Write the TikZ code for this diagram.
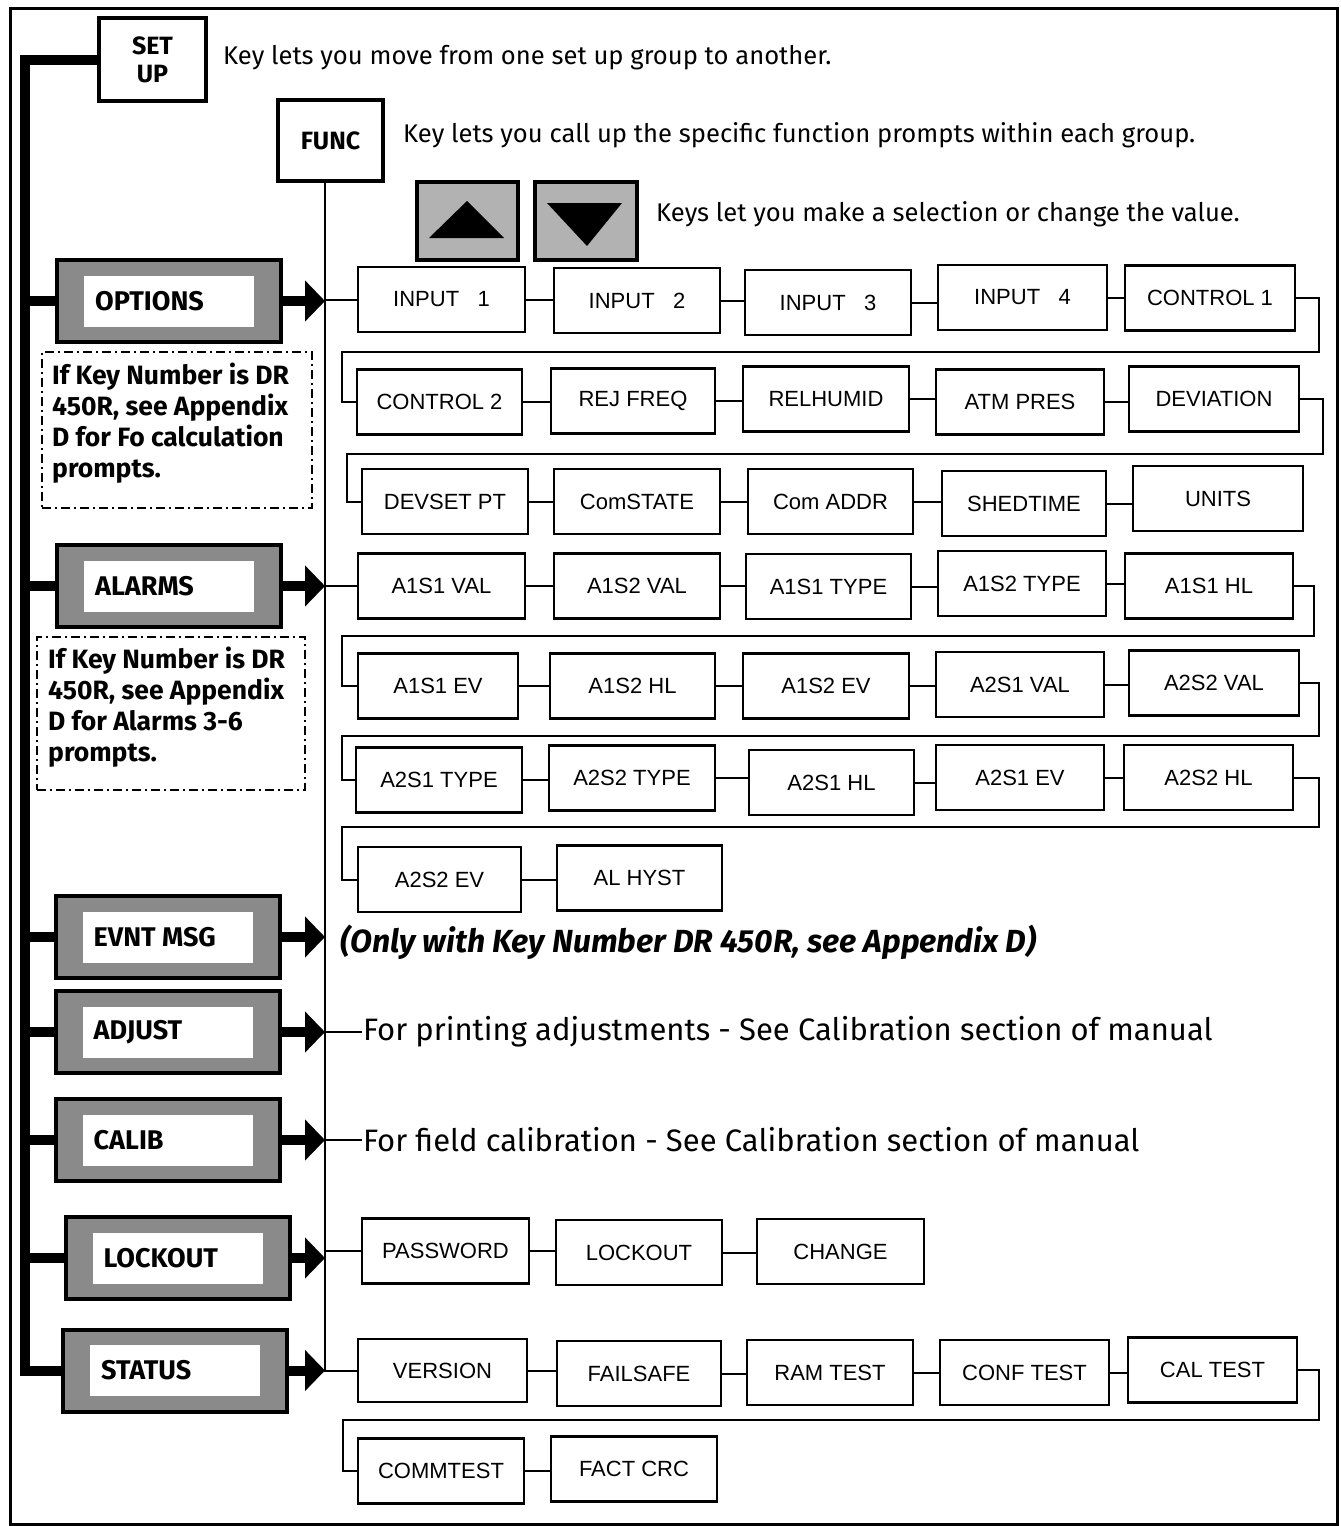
\documentclass[tikz,border=0pt]{standalone}
\usepackage{fontspec}
\setmainfont{Fira Sans}
\newfontfamily\promptfont{Liberation Sans}
\usetikzlibrary{arrows.meta}

\definecolor{halftone}{gray}{0.54}
\definecolor{keytone}{gray}{0.70}

\tikzset{
  frame/.style={line width=3pt},
  prompt/.style={draw, line width=2.4pt, inner sep=0pt, minimum height=65pt,
    font=\promptfont\fontsize{22}{26}\selectfont},
  link/.style={line width=2pt},
  keybox/.style={draw, line width=3.5pt, inner sep=0pt, align=center,
    font=\bfseries\fontsize{25}{28}\selectfont},
  group/.style={draw, line width=4pt, fill=halftone, minimum width=224pt,
    minimum height=82pt, inner sep=0pt},
  groupin/.style={fill=white, minimum width=170pt, minimum height=51pt, inner sep=0pt},
  grouplabel/.style={anchor=west, inner sep=0pt, font=\bfseries\fontsize{27}{30}\selectfont},
  bus/.style={line width=10pt},
  feed/.style={line width=10pt, -{Triangle[length=20pt,width=40pt]}},
  note/.style={draw, line width=2pt, dash pattern=on 9pt off 4pt on 2pt off 4pt},
  notetext/.style={anchor=west, align=left, inner sep=0pt,
    font=\bfseries\fontsize{26.5}{31}\selectfont},
  desc/.style={anchor=west, inner sep=0pt, font=\fontsize{25.6}{29}\selectfont},
  remark/.style={anchor=west, inner sep=0pt, font=\fontsize{31}{34}\selectfont},
  arrowkey/.style={draw, line width=3.5pt, fill=keytone, minimum width=101pt,
    minimum height=78pt, inner sep=0pt},
}

% a group key: grey bordered frame with a white field and its label
\newcommand\groupkey[4]{%
  \node[group] (#1) at (#2,#3) {};
  \node[groupin] (#1-in) at (#1.center) {};
  \node[grouplabel] (#1-label) at ([xshift=40pt]#1.west) {#4};
}

\begin{document}
\begin{tikzpicture}[x=1pt, y=-1pt]
\useasboundingbox (0,0) rectangle (1341,1526);

% outer frame
\draw[frame] (10,8) rectangle (1337,1524);

% SET UP and FUNC keys
\node[keybox, minimum width=107pt, minimum height=83pt] (setup) at (152.5,59.5) {SET\\UP};
\node[keybox, minimum width=105pt, minimum height=81pt] (func) at (330.5,140.5) {FUNC};
\node[desc] (setuptext) at (223,58) {Key lets you move from one set up group to another.};
\node[desc] (functext) at (403,135) {Key lets you call up the specific function prompts within each group.};

% up / down keys
\node[arrowkey] (upkey) at (467.5,221) {};
\node[arrowkey, minimum width=102pt] (downkey) at (586,221) {};
\fill (429,238) -- (504,238) -- (467,201) -- cycle;
\fill (547,203) -- (622,203) -- (587,246) -- cycle;
\node[desc] (keystext) at (656,214) {Keys let you make a selection or change the value.};

% group keys
\groupkey{opt}{169}{301}{OPTIONS}
\groupkey{alm}{169}{586}{ALARMS}
\groupkey{evt}{167.5}{937}{EVNT MSG}
\groupkey{adj}{167.5}{1032}{ADJUST}
\groupkey{cal}{167.5}{1140}{CALIB}
\groupkey{lck}{177.5}{1258}{LOCKOUT}
\groupkey{sta}{175}{1370.5}{STATUS}

% SET UP bus on the left
\draw[bus, line join=miter] (setup.west) -- (25,59.5) -- (25,1370.5) -- (sta.west);
\foreach \g in {opt,alm,evt,adj,cal,lck}
  \draw[bus] (25,0 |- \g.west) -- (\g.west);

% FUNC line
\coordinate (ftop) at (325,181);
\coordinate (fbot) at (325,1372);
\draw[link] (ftop) -- (fbot);
\foreach \g in {opt,alm,evt,adj,cal,lck,sta}
  \draw[feed] (\g.east) -- (\g.east -| ftop);

% notes
\node[note, minimum width=270pt, minimum height=156pt] (note1) at (177,430) {};
\node[notetext] (note1-text) at (52,423) {If Key Number is DR\\450R, see Appendix\\D for Fo calculation\\prompts.};
\node[note, minimum width=268pt, minimum height=153pt] (note2) at (171,713.5) {};
\node[notetext] (note2-text) at (48,707) {If Key Number is DR\\450R, see Appendix\\D for Alarms 3-6\\prompts.};

% OPTIONS prompts
\node[prompt, minimum width=167pt] (in1) at (441.5,299.5) {INPUT~~~1};
\node[prompt, minimum width=166pt] (in2) at (637,300.5) {INPUT~~~2};
\node[prompt, minimum width=166pt] (in3) at (828,302.5) {INPUT~~~3};
\node[prompt, minimum width=169pt] (in4) at (1022.5,297.5) {INPUT~~~4};
\node[prompt, minimum width=170pt] (ctl1) at (1210,298) {CONTROL 1};
\node[prompt, minimum width=165pt] (ctl2) at (439.5,402) {CONTROL 2};
\node[prompt, minimum width=164pt] (rej) at (633,401) {REJ FREQ};
\node[prompt, minimum width=166pt] (rel) at (826,399) {RELHUMID};
\node[prompt, minimum width=168pt] (atm) at (1020,402) {ATM PRES};
\node[prompt, minimum width=170pt] (dev) at (1214,399) {DEVIATION};
\node[prompt, minimum width=166pt] (dsp) at (445,501.5) {DEVSET PT};
\node[prompt, minimum width=166pt] (cst) at (637,501.5) {ComSTATE};
\node[prompt, minimum width=165pt] (cad) at (830.5,501.5) {Com ADDR};
\node[prompt, minimum width=164pt] (shd) at (1024,503.5) {SHEDTIME};
\node[prompt, minimum width=170pt] (uni) at (1218,498.5) {UNITS};

% ALARMS prompts
\node[prompt, minimum width=167pt] (a11v) at (441.5,586) {A1S1 VAL};
\node[prompt, minimum width=166pt] (a12v) at (637,586) {A1S2 VAL};
\node[prompt, minimum width=165pt] (a11t) at (828.5,586.5) {A1S1 TYPE};
\node[prompt, minimum width=168pt] (a12t) at (1022,583.5) {A1S2 TYPE};
\node[prompt, minimum width=168pt] (a11h) at (1209,586) {A1S1 HL};
\node[prompt, minimum width=160pt] (a11e) at (438,686) {A1S1 EV};
\node[prompt, minimum width=165pt] (a12h) at (632.5,686) {A1S2 HL};
\node[prompt, minimum width=166pt] (a12e) at (826,686) {A1S2 EV};
\node[prompt, minimum width=168pt] (a21v) at (1020,684.5) {A2S1 VAL};
\node[prompt, minimum width=170pt] (a22v) at (1214,683) {A2S2 VAL};
\node[prompt, minimum width=166pt] (a21t) at (439,780) {A2S1 TYPE};
\node[prompt, minimum width=166pt] (a22t) at (632,778) {A2S2 TYPE};
\node[prompt, minimum width=165pt] (a21h) at (831.5,782.5) {A2S1 HL};
\node[prompt, minimum width=168pt] (a21e) at (1020,777.5) {A2S1 EV};
\node[prompt, minimum width=169pt] (a22h) at (1208.5,777.5) {A2S2 HL};
\node[prompt, minimum width=163pt] (a22e) at (439.5,879.5) {A2S2 EV};
\node[prompt, minimum width=165pt] (alh) at (639.5,878) {AL HYST};

% LOCKOUT prompts
\node[prompt, minimum width=167pt] (pwd) at (445.5,1251) {PASSWORD};
\node[prompt, minimum width=166pt] (lko) at (639,1252.5) {LOCKOUT};
\node[prompt, minimum width=167pt] (chg) at (840.5,1251.5) {CHANGE};

% STATUS prompts
\node[prompt, minimum width=169pt, minimum height=63pt] (ver) at (442.5,1370.5) {VERSION};
\node[prompt, minimum width=164pt] (fsf) at (639,1373.5) {FAILSAFE};
\node[prompt, minimum width=166pt] (ram) at (830,1372.5) {RAM TEST};
\node[prompt, minimum width=169pt] (cft) at (1024.5,1372.5) {CONF TEST};
\node[prompt, minimum width=169pt] (cat) at (1212.5,1370) {CAL TEST};
\node[prompt, minimum width=166pt] (cmt) at (441,1471) {COMMTEST};
\node[prompt, minimum width=166pt] (fcr) at (634,1469) {FACT CRC};

% links from the FUNC line to the first prompt of each group
\foreach \p in {in1,a11v,pwd,ver}
  \draw[link] (\p.west -| ftop) -- (\p.west);

% links between neighbouring prompts
\foreach \a/\b in {in1/in2,in2/in3,in3/in4,in4/ctl1,
                   ctl2/rej,rej/rel,rel/atm,atm/dev,
                   dsp/cst,cst/cad,cad/shd,shd/uni,
                   a11v/a12v,a12v/a11t,a11t/a12t,a12t/a11h,
                   a11e/a12h,a12h/a12e,a12e/a21v,a21v/a22v,
                   a21t/a22t,a22t/a21h,a21h/a21e,a21e/a22h,
                   a22e/alh,
                   pwd/lko,lko/chg,
                   ver/fsf,fsf/ram,ram/cft,cft/cat,
                   cmt/fcr}
  \draw[link] (\a.east) -- (\a.east -| \b.west);

% wrap-around links to the next row
\draw[link] (ctl1.east) -- ++(23,0) |- (342,352) |- (ctl2.west);
\draw[link] (dev.east) -- ++(23,0) |- (347,454) |- (dsp.west);
\draw[link] (a11h.east) -- ++(20,0) |- (342,636) |- (a11e.west);
\draw[link] (a22v.east) -- ++(19,0) |- (342,736) |- (a21t.west);
\draw[link] (a22h.east) -- ++(25,0) |- (342,827) |- (a22e.west);
\draw[link] (cat.east) -- ++(21,0) |- (343,1420) |- (cmt.west);

% remarks for EVNT MSG, ADJUST and CALIB
\node[remark, font=\bfseries\itshape\fontsize{32}{35}\selectfont] (evttext) at (340,942)
  {(Only with Key Number DR 450R, see Appendix D)};
\draw[link] (adj.east -| ftop) -- ++(37,0) node[remark] (adjtext)
  {For printing adjustments - See Calibration section of manual};
\draw[link] (cal.east -| ftop) -- ++(37,0) node[remark] (caltext)
  {For field calibration - See Calibration section of manual};

\end{tikzpicture}
\end{document}
